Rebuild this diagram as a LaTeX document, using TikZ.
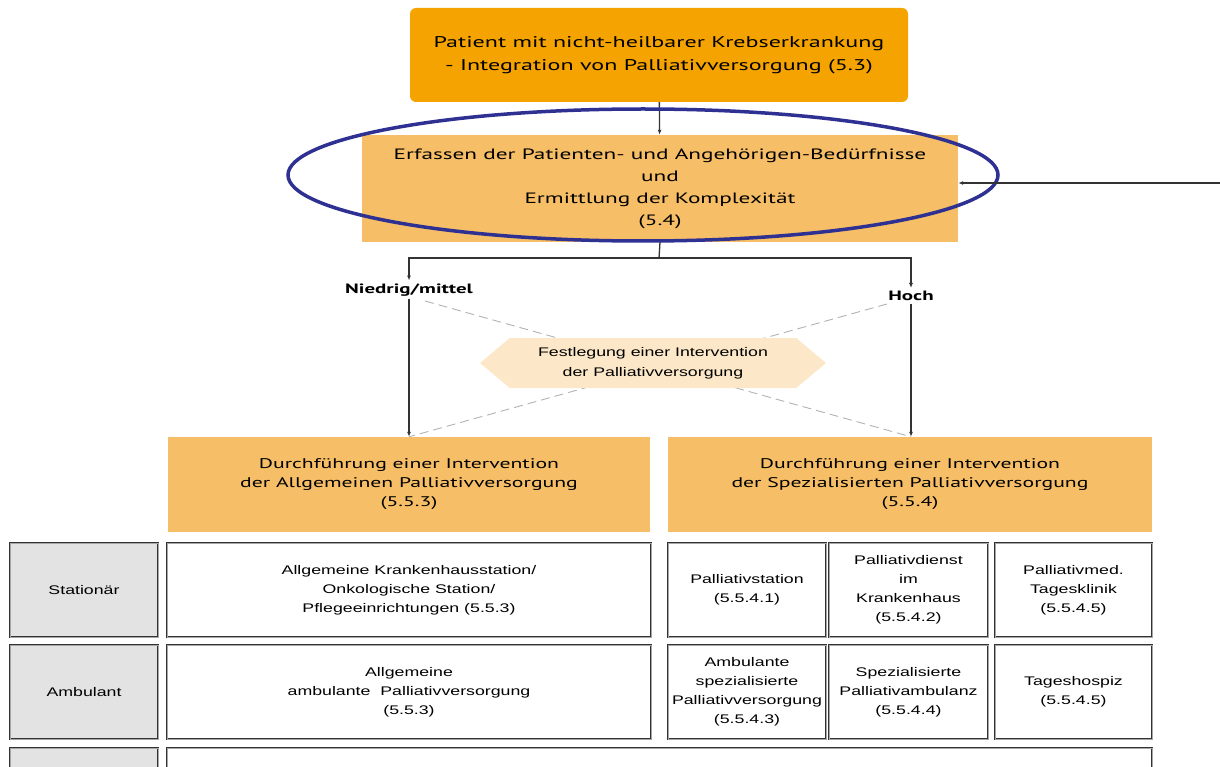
\documentclass[tikz,border=0pt]{standalone}
\usepackage{fontspec}
\setmainfont[FakeStretch=1.42]{Liberation Sans}
\newfontfamily\boxfont[FakeStretch=1.55]{PT Sans}
\usepackage{tikz}
\usetikzlibrary{positioning, shapes.geometric, shapes.symbols, arrows.meta, calc}

\definecolor{deeporange}{HTML}{F5A300}
\definecolor{lightorange}{HTML}{F6BE66}
\definecolor{paleorange}{HTML}{FCE8C8}
\definecolor{ringblue}{HTML}{2E3192}

\tikzset{
  flow/.style={draw=black!80, line width=1.3pt, -{Latex[length=5pt,width=4pt]}},
  plain/.style={draw=black!80, line width=1.3pt},
  xline/.style={draw=black!30, line width=0.9pt, dash pattern=on 9pt off 5pt},
  orangebox/.style={fill=lightorange, align=center, inner sep=0pt,
    font=\boxfont\fontsize{14}{19}\selectfont},
  cell/.style={draw=black!80, double=black!35, double distance=0.7pt, line width=0.8pt,
    fill=white, align=center, inner sep=0pt, font=\fontsize{12.5}{19}\selectfont},
  headcell/.style={cell, fill=black!11},
  branch/.style={font=\boxfont\bfseries\fontsize{13.5}{16}\selectfont, inner sep=3pt}
}

\begin{document}
\begin{tikzpicture}[x=1pt, y=-1pt]
  \useasboundingbox (0,0) rectangle (1220,767);
  \clip (0,0) rectangle (1220,767);

  % Start and assessment
  \node[fill=deeporange, rounded corners=6pt, minimum width=498pt, minimum height=94pt,
        align=center, font=\boxfont\fontsize{15.5}{23}\selectfont] (patient) at (659,55)
    {Patient mit nicht-heilbarer Krebserkrankung\\- Integration von Palliativversorgung (5.3)};
  \node[orangebox, minimum width=596pt, minimum height=107pt,
        font=\boxfont\fontsize{15}{22}\selectfont] (erfassen) at (660,188.5)
    {Erfassen der Patienten- und Angehörigen-Bedürfnisse\\und\\Ermittlung der Komplexität\\(5.4)};
  \draw[flow] (patient) -- (erfassen);

  % Highlight ring and incoming arrow
  \node[ellipse, draw=ringblue, line width=3.5pt, minimum width=710pt, minimum height=132pt] (ring) at (643,175) {};
  \coordinate (feed) at (1220,183);
  \draw[flow] (feed) -- (feed -| erfassen.east);

  % Branches
  \node[branch] (niedrig) at (409,290) {Niedrig/mittel};
  \node[branch] (hoch) at (911,296) {Hoch};
  \coordinate (split) at (659,258);
  \draw[plain] (erfassen.south) -- (split);
  \draw[flow] (split) -| (niedrig.north);
  \draw[flow] (split) -| (hoch.north);

  % Lower boxes
  \node[orangebox, minimum width=482pt, minimum height=95pt] (allg) at (409,484.5)
    {Durchführung einer Intervention\\der Allgemeinen Palliativversorgung\\(5.5.3)};
  \node[orangebox, minimum width=484pt, minimum height=95pt] (spez) at (910,484.5)
    {Durchführung einer Intervention\\der Spezialisierten Palliativversorgung\\(5.5.4)};
  \draw[flow] (niedrig.south) -- (niedrig.south |- allg.north);
  \draw[flow] (hoch.south) -- (hoch.south |- spez.north);

  % Crossing dashed lines behind the hexagon
  \coordinate (xa) at (425,301);
  \coordinate (xb) at (887,304);
  \draw[xline] (xa) -- (allg.north -| hoch.south);
  \draw[xline] (xb) -- (spez.north -| niedrig.south);
  \node[signal, signal to=west and east, signal pointer angle=80, fill=paleorange,
        minimum width=346pt, minimum height=50pt, inner sep=0pt, align=center,
        font=\fontsize{12.5}{20}\selectfont] (fest) at (653,363)
    {Festlegung einer Intervention\\der Palliativversorgung};

  % Care settings table
  \node[headcell, minimum width=148pt, minimum height=94pt] (stat) at (84,590) {Stationär};
  \node[headcell, minimum width=148pt, minimum height=94pt] (amb) at (84,692) {Ambulant};
  \node[headcell, minimum width=148pt, minimum height=94pt] (third) at (84,795) {};

  \node[cell, minimum width=484pt, minimum height=94pt] (statallg) at (409,590)
    {Allgemeine Krankenhausstation/\\Onkologische Station/\\Pflegeeinrichtungen (5.5.3)};
  \node[cell, minimum width=484pt, minimum height=94pt] (amballg) at (409,692)
    {Allgemeine\\ambulante\ \ Palliativversorgung\\(5.5.3)};
  \node[cell, minimum width=985pt, minimum height=94pt] (thirdall) at (659.5,795) {};

  \node[cell, minimum width=158pt, minimum height=94pt] (pst) at (747,590)
    {Palliativstation\\(5.5.4.1)};
  \node[cell, minimum width=159pt, minimum height=94pt] (pdk) at (908.5,590)
    {Palliativdienst\\im\\Krankenhaus\\(5.5.4.2)};
  \node[cell, minimum width=157pt, minimum height=94pt] (ptk) at (1073.5,590)
    {Palliativmed.\\Tagesklinik\\(5.5.4.5)};
  \node[cell, minimum width=158pt, minimum height=94pt] (sapv) at (747,692)
    {Ambulante\\spezialisierte\\Palliativversorgung\\(5.5.4.3)};
  \node[cell, minimum width=159pt, minimum height=94pt] (spa) at (908.5,692)
    {Spezialisierte\\Palliativambulanz\\(5.5.4.4)};
  \node[cell, minimum width=157pt, minimum height=94pt] (thosp) at (1073.5,692)
    {Tageshospiz\\(5.5.4.5)};
\end{tikzpicture}
\end{document}
